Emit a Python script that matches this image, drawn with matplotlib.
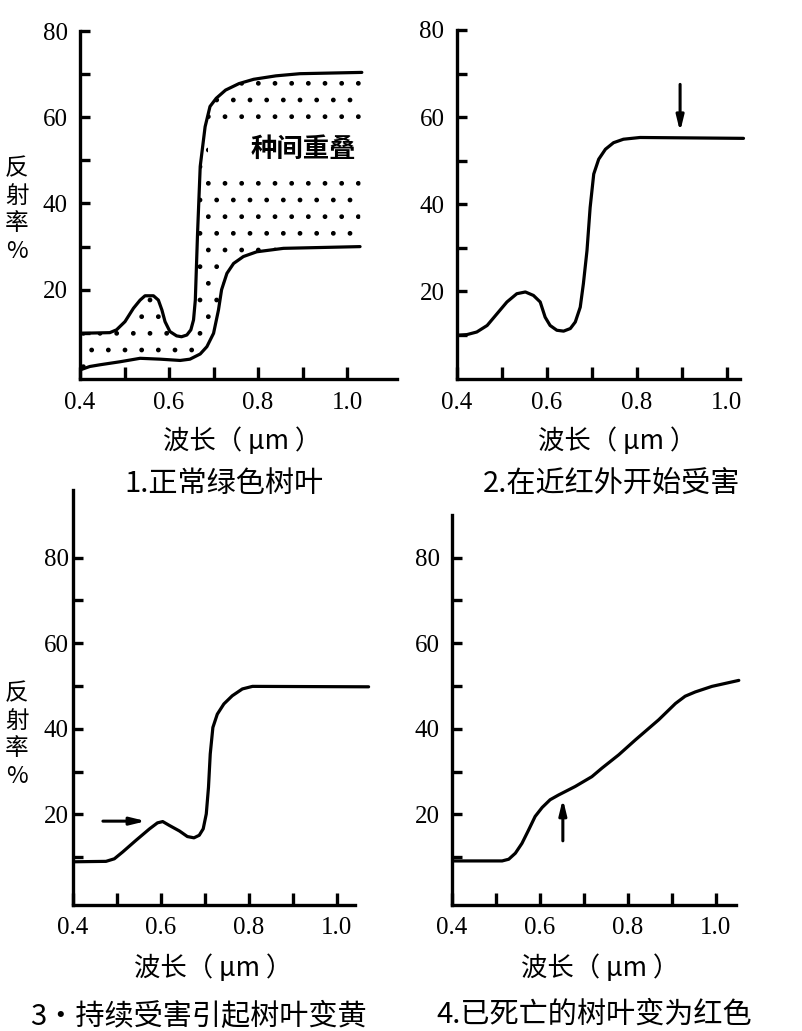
import numpy as np
import matplotlib
matplotlib.use('Agg')
from matplotlib import pyplot as plt
from matplotlib.patches import Polygon

plt.rcParams['font.family'] = ['Noto Sans CJK SC', 'DejaVu Sans']
plt.rcParams['hatch.linewidth'] = 1.0

# ---- data ----
# 1. normal green leaves: upper / lower envelope
p1_up_x = [0.40, 0.467, 0.482, 0.501, 0.52, 0.535, 0.546, 0.565, 0.576, 0.584, 0.591,
           0.602, 0.617, 0.628, 0.64, 0.649, 0.655, 0.659, 0.664, 0.670, 0.681, 0.692,
           0.706, 0.727, 0.757, 0.79, 0.84, 0.894, 1.033]
p1_up_y = [9.9, 10.05, 10.7, 12.6, 15.7, 17.6, 18.6, 18.6, 17.6, 15.3, 12.6,
           10.3, 9.3, 9.1, 9.5, 10.7, 13.0, 17.6, 33.0, 48.6, 57.8, 62.5,
           64.4, 66.3, 67.8, 68.8, 69.6, 70.1, 70.4]
p1_lo_x = [0.40, 0.422, 0.445, 0.49, 0.535, 0.58, 0.625, 0.647, 0.67, 0.685, 0.70,
           0.711, 0.718, 0.73, 0.745, 0.767, 0.797, 0.857, 1.029]
p1_lo_y = [1.4, 2.2, 2.6, 3.3, 4.1, 3.9, 3.6, 3.9, 5.1, 6.8, 9.9,
           15.3, 20.0, 23.8, 26.1, 27.7, 28.8, 29.6, 30.0]

# 2. damage starting in near infrared
p2_x = [0.40, 0.422, 0.444, 0.467, 0.489, 0.511, 0.533, 0.552, 0.57, 0.585, 0.596,
        0.607, 0.622, 0.637, 0.652, 0.663, 0.674, 0.681, 0.689, 0.696, 0.704, 0.715,
        0.73, 0.748, 0.77, 0.807, 1.037]
p2_y = [9.85, 10.0, 10.6, 12.1, 14.8, 17.5, 19.4, 19.8, 19.0, 17.5, 14.0,
        12.1, 11.0, 10.8, 11.4, 12.9, 16.3, 21.7, 29.3, 39.2, 46.9, 50.3,
        52.6, 54.1, 54.9, 55.3, 55.1]
p2_arrow = [(0.896, 67.5), (0.896, 56.6)]

# 3. continued damage, leaves turn yellow
p3_x = [0.40, 0.475, 0.494, 0.513, 0.543, 0.574, 0.592, 0.604, 0.619, 0.642, 0.66,
        0.675, 0.687, 0.696, 0.703, 0.708, 0.712, 0.718, 0.728, 0.743, 0.762, 0.785,
        0.808, 1.072]
p3_y = [8.9, 9.0, 9.6, 11.2, 13.9, 16.6, 18.0, 18.3, 17.4, 16.1, 14.8,
        14.5, 15.1, 16.6, 20.1, 26.3, 34.1, 40.3, 43.4, 45.8, 47.7, 49.3,
        49.9, 49.8]
p3_arrow = [(0.468, 18.4), (0.566, 18.4)]

# 4. dead leaves turn red
p4_x = [0.40, 0.514, 0.529, 0.544, 0.559, 0.574, 0.589, 0.605, 0.623, 0.642, 0.68,
        0.718, 0.741, 0.779, 0.817, 0.87, 0.908, 0.93, 0.953, 0.991, 1.052]
p4_y = [9.1, 9.1, 9.5, 10.9, 13.2, 16.3, 19.5, 21.6, 23.4, 24.5, 26.5,
        28.8, 30.8, 33.9, 37.4, 42.1, 45.9, 47.6, 48.6, 49.9, 51.3]
p4_arrow = [(0.652, 13.8), (0.652, 23.6)]

xt_major = [0.4, 0.6, 0.8, 1.0]
xt_labels = ['0.4', '0.6', '0.8', '1.0']
xt_minor = [0.5, 0.7, 0.9]
yt_major = [20, 40, 60, 80]
yt_labels = ['20', '40', '60', '80']
yt_minor = [10, 30, 50, 70]

titles = ['1.正常绿色树叶', '2.在近红外开始受害', '3·持续受害引起树叶变黄', '4.已死亡的树叶变为红色']
xlab = '波长（ μm ）'
ylab = '反\n射\n率\n%'
overlap_txt = '种间重叠'

# ---- figure ----
W, H = 802, 1031
fig = plt.figure(figsize=(W / 100, H / 100), dpi=100)


def px_axes(left, top, right, bottom):
    return fig.add_axes([left / W, 1 - bottom / H, (right - left) / W, (bottom - top) / H])


def style(ax, xlim, xend, ylim, ytop, ypad):
    ax.set_xlim(*xlim)
    ax.set_ylim(*ylim)
    ax.patch.set_alpha(0)
    for s in ['top', 'right']:
        ax.spines[s].set_visible(False)
    for s in ['left', 'bottom']:
        ax.spines[s].set_linewidth(2.4)
    ax.spines['bottom'].set_bounds(xlim[0], xend)
    ax.spines['left'].set_bounds(ylim[0], ytop)
    ax.set_xticks(xt_major)
    ax.set_xticklabels(xt_labels)
    ax.set_xticks(xt_minor, minor=True)
    ax.set_yticks(yt_major)
    ax.set_yticklabels(yt_labels)
    ax.set_yticks(yt_minor, minor=True)
    ax.tick_params(axis='x', which='both', direction='in', length=9, width=2.4, pad=9,
                   labelsize=18, labelfontfamily='Liberation Serif')
    ax.tick_params(axis='y', which='both', direction='in', length=7, width=2.4, pad=ypad,
                   labelsize=18, labelfontfamily='Liberation Serif')


LW = 2.3
line_kw = dict(color='k', lw=LW, solid_capstyle='round', solid_joinstyle='round', zorder=3)
arrow_props = dict(arrowstyle='-|>,head_length=0.9,head_width=0.22', lw=2.2, color='k',
                   shrinkA=0, shrinkB=0)

# panel 1
ax1 = px_axes(80, 31, 397, 379)
style(ax1, (0.4, 1.112), 1.112, (-0.7, 80), 80, 9)
region = np.vstack([np.column_stack([p1_up_x, p1_up_y]),
                    np.column_stack([p1_lo_x, p1_lo_y])[::-1]])
ax1.add_patch(Polygon(region, closed=True, facecolor='none', edgecolor='k',
                      linewidth=0, hatch='.', zorder=1))
ax1.axhspan(47, 58.5, xmin=0.405, xmax=1.0, color='white', zorder=1.5, lw=0)
ax1.plot(p1_up_x, p1_up_y, **line_kw)
ax1.plot(p1_lo_x, p1_lo_y, **line_kw)
ax1.text(0.901, 52.5, overlap_txt, fontsize=19, fontweight='bold',
         ha='center', va='center', zorder=4)

# panel 2
ax2 = px_axes(457, 30, 757, 379)
style(ax2, (0.4, 1.067), 1.03, (-0.2, 80), 80, 9)
ax2.plot(p2_x, p2_y, **line_kw)
ax2.annotate('', xy=p2_arrow[1], xytext=p2_arrow[0], arrowprops=arrow_props)

# panel 3
ax3 = px_axes(73, 490, 373, 905)
style(ax3, (0.4, 1.082), 1.042, (-1.2, 95.8), 95.8, 3)
ax3.plot(p3_x, p3_y, **line_kw)
ax3.annotate('', xy=p3_arrow[1], xytext=p3_arrow[0], arrowprops=arrow_props)

# panel 4
ax4 = px_axes(452, 490, 752, 905)
style(ax4, (0.4, 1.082), 1.046, (-1.2, 95.8), 90, 9)
ax4.plot(p4_x, p4_y, **line_kw)
ax4.annotate('', xy=p4_arrow[1], xytext=p4_arrow[0], arrowprops=arrow_props)

# axis labels and captions
for cx, cy in [(242, 441), (617, 441), (213, 968), (600, 968)]:
    fig.text(cx / W, 1 - cy / H, xlab, fontsize=19, ha='center', va='center')
for (cx, cy), t in zip([(224, 484), (612, 484), (198, 1017), (594, 1015)], titles):
    fig.text(cx / W, 1 - cy / H, t, fontsize=21, ha='center', va='center')
for cx, cy in [(17, 210), (17, 735)]:
    fig.text(cx / W, 1 - cy / H, ylab, fontsize=17, ha='center', va='center',
             linespacing=1.25)

fig.savefig('out.png', dpi=100, facecolor='white')
